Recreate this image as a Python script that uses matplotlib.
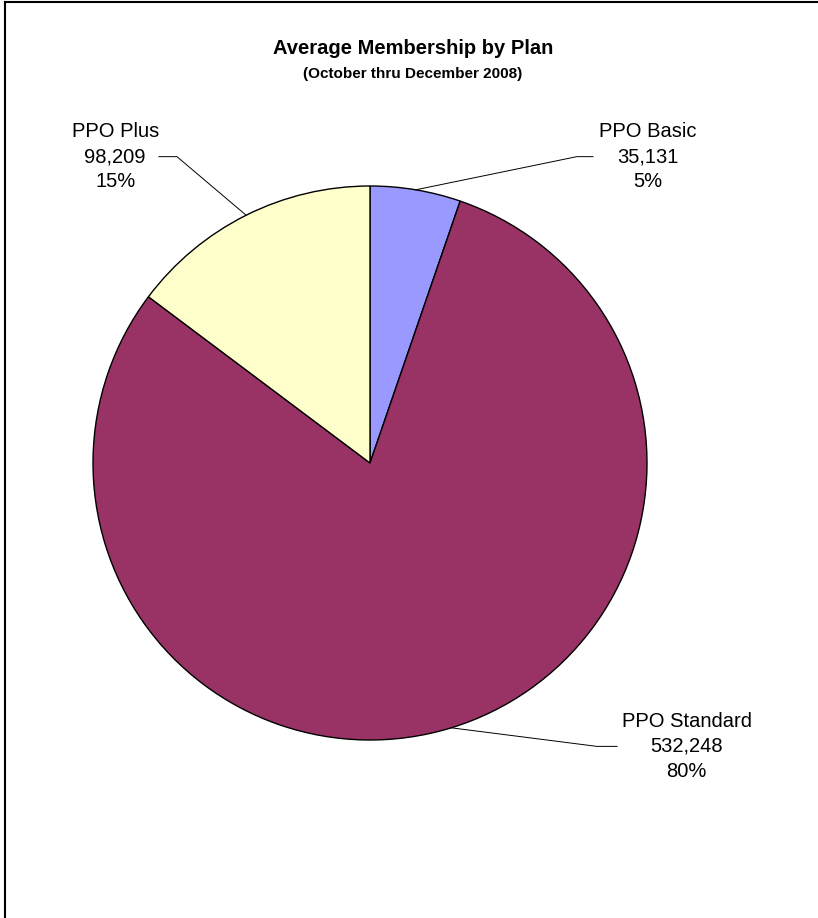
import numpy as np
import matplotlib
matplotlib.use("Agg")
import matplotlib.pyplot as plt
from matplotlib.lines import Line2D

plt.rcParams['font.family'] = ['Liberation Sans', 'DejaVu Sans']

# average membership, Oct-Dec 2008
plans = ["PPO Basic", "PPO Standard", "PPO Plus"]
members = [35131, 532248, 98209]
colors = ["#9999FF", "#993366", "#FFFFCC"]

# where each callout sits (data units, pie radius = 1)
label_pos = [(1.004, 1.106), (1.143, -1.023), (-0.92, 1.106)]
elbow_x = [(0.747, 0.805), (0.819, 0.892), (-0.697, -0.762)]

W, H = 818, 918
fig = plt.figure(figsize=(W / 100, H / 100), dpi=100)
cx, cy, r = 370, 463, 277
ax = fig.add_axes([(cx - r) / W, (H - cy - r) / H, 2 * r / W, 2 * r / H])

wedges, _ = ax.pie(members, colors=colors, startangle=90, counterclock=False,
                   radius=1, wedgeprops=dict(edgecolor='black', linewidth=1.0))
# pie() resets the limits, so pin them afterwards
ax.set_xlim(-1, 1)
ax.set_ylim(-1, 1)
ax.set_aspect('equal')
ax.axis('off')

total = sum(members)
for w, name, val, (lx, ly), (ex, tx) in zip(wedges, plans, members, label_pos, elbow_x):
    mid = np.deg2rad((w.theta1 + w.theta2) / 2)
    px, py = np.cos(mid), np.sin(mid)
    ax.plot([px, ex, tx], [py, ly, ly], color='black', lw=0.7, clip_on=False)
    pct = round(val / total * 100)
    ax.text(lx, ly, f"{name}\n{val:,}\n{pct}%", ha='center', va='center',
            fontsize=14.5, linespacing=1.4, clip_on=False)

fig.text(413 / W, 1 - 49 / H, "Average Membership by Plan", ha='center', va='center',
         fontsize=14.5, fontweight='bold')
fig.text(413 / W, 1 - 74 / H, "(October thru December 2008)", ha='center', va='center',
         fontsize=11, fontweight='bold')

# chart area border (top and left edges)
fig.add_artist(Line2D([5 / W, 1], [1 - 1.5 / H, 1 - 1.5 / H], color='black', lw=1.5))
fig.add_artist(Line2D([5 / W, 5 / W], [0, 1 - 1.5 / H], color='black', lw=1.5))

fig.savefig("out.png", dpi=100)
